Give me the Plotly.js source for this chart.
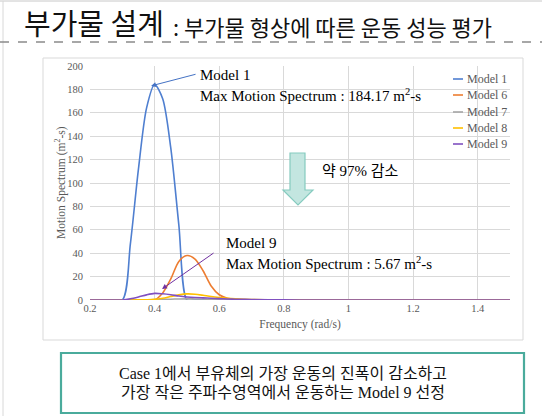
<!DOCTYPE html>
<html>
<head>
<meta charset="utf-8">
<script src="https://cdn.plot.ly/plotly-3.0.1.min.js"></script>
<style>html,body{margin:0;padding:0;background:#fff;}#chart{width:542px;height:417px;}</style>
</head>
<body>
<div id="chart"></div>
<script>
// ---- data ----
const seriesNames = ["Model 1", "Model 6", "Model 7", "Model 8", "Model 9"];
const freqFine = [0.2, 0.25, 0.3, 0.325, 0.35, 0.375, 0.4, 0.425, 0.45, 0.475, 0.5, 0.525, 0.55, 0.575, 0.6, 0.625, 0.65, 0.7, 0.8, 0.9, 1.0, 1.1, 1.2, 1.3, 1.4, 1.5];
const model1 = [0, 0, 0, 48, 112, 164, 184.17, 172, 130, 64, 0, 0, 0, 0, 0, 0, 0, 0, 0, 0, 0, 0, 0, 0, 0, 0];
const model6 = [0, 0, 0, 0, 0, 0, 0, 6, 18, 33, 38, 35, 25, 12, 4.5, 1.5, 0.6, 0.2, 0, 0, 0, 0, 0, 0, 0, 0];
const model7 = [0, 0, 0, 0, 0.1, 0.2, 0.3, 0.5, 0.7, 0.9, 1.0, 0.9, 0.8, 0.6, 0.5, 0.3, 0.2, 0.1, 0, 0, 0, 0, 0, 0, 0, 0];
const model8 = [0, 0, 0, 0, 0.1, 0.2, 0.5, 1.5, 3, 4.4, 5.2, 4.9, 4.0, 3.0, 2.2, 1.5, 1.0, 0.4, 0.1, 0, 0, 0, 0, 0, 0, 0];
const model9 = [0, 0, 0, 1.0, 2.6, 4.4, 5.67, 5.3, 4.5, 3.4, 2.6, 2.1, 1.8, 1.5, 1.2, 0.9, 0.7, 0.4, 0.1, 0, 0, 0, 0, 0, 0, 0];
const seriesValues = [model1, model6, model7, model8, model9];
const seriesColors = ["#4f7fd0", "#ED7D31", "#A5A5A5", "#FFC000", "#8050c0"];
const xTicks = [0.2, 0.4, 0.6, 0.8, 1.0, 1.2, 1.4];
const xTickText = ["0.2", "0.4", "0.6", "0.8", "1", "1.2", "1.4"];
const yTicks = [0, 20, 40, 60, 80, 100, 120, 140, 160, 180, 200];

// ---- layout helpers (pixel -> paper) ----
const FW = 542, FH = 417, ML = 90, MR = 32, MT = 66, MB = 117;
const PW = FW - ML - MR, PH = FH - MT - MB;
const px = x => (x - ML) / PW;
const py = y => (FH - MB - y) / PH;

const serif = "Liberation Serif, 'Times New Roman', serif";
const mixed = "Liberation Serif, 'Noto Sans CJK KR', serif";
const kr = "'Noto Sans CJK KR', 'Noto Sans', sans-serif";

const traces = seriesNames.map((n, i) => ({
  x: freqFine, y: seriesValues[i], name: n, type: "scatter", mode: "lines",
  line: {color: seriesColors[i], width: 1.6, shape: "spline", smoothing: 0.8},
  showlegend: false, hoverinfo: "skip"
}));

const shapes = [];
const annotations = [];

// slide frame lines
shapes.push({type: "line", xref: "paper", yref: "paper", x0: px(0), x1: px(542), y0: py(1), y1: py(1), line: {color: "#c8c8c8", width: 1}});
shapes.push({type: "line", xref: "paper", yref: "paper", x0: px(3), x1: px(3), y0: py(1), y1: py(416), line: {color: "#d8d8d8", width: 1}});
// dashed separator
shapes.push({type: "line", xref: "paper", yref: "paper", x0: px(0), x1: px(542), y0: py(42), y1: py(42), line: {color: "#8a8a8a", width: 1.3, dash: "dash"}});
// chart frame
shapes.push({type: "rect", xref: "paper", yref: "paper", x0: px(43), x1: px(523), y0: py(58), y1: py(340), line: {color: "#d9d9d9", width: 1}, layer: "below"});
// bottom box
shapes.push({type: "rect", xref: "paper", yref: "paper", x0: px(61), x1: px(524), y0: py(353), y1: py(413), line: {color: "#4aab9c", width: 2.2}});
// teal down arrow
const arrowPts = [[290,153],[305,153],[305,190],[313,190],[298,205],[283,190],[290,190]];
shapes.push({type: "path", xref: "paper", yref: "paper",
  path: "M " + arrowPts.map(p => px(p[0]).toFixed(5) + "," + py(p[1]).toFixed(5)).join(" L ") + " Z",
  fillcolor: "#c3e6e0", line: {color: "#86cbbf", width: 1.2}});

// manual legend
const legendY = [79, 95, 112, 128, 144];
seriesNames.forEach((n, i) => {
  shapes.push({type: "line", xref: "paper", yref: "paper", x0: px(453), x1: px(463), y0: py(legendY[i]), y1: py(legendY[i]), line: {color: seriesColors[i], width: 1.6}});
  annotations.push({xref: "paper", yref: "paper", x: px(465), y: py(legendY[i]), xanchor: "left", yanchor: "middle", showarrow: false, text: n, font: {family: serif, size: 12, color: "#595959"}});
});

// title
annotations.push({xref: "paper", yref: "paper", x: px(22), y: py(22), xanchor: "left", yanchor: "middle", showarrow: false, text: "부가물 설계", font: {family: kr, size: 29, color: "#111"}});
annotations.push({xref: "paper", yref: "paper", x: px(171), y: py(26), xanchor: "left", yanchor: "middle", showarrow: false, text: ": 부가물 형상에 따른 운동 성능 평가", font: {family: kr, size: 22, color: "#111"}});

// y axis title (placed manually)
annotations.push({xref: "paper", yref: "paper", x: px(60), y: py(183), xanchor: "center", yanchor: "middle", textangle: -90, showarrow: false, text: "Motion Spectrum (m<sup>2</sup>-s)", font: {family: serif, size: 11.5, color: "#595959"}});

// chart annotations
annotations.push({xref: "paper", yref: "paper", x: px(198), y: py(75), xanchor: "left", yanchor: "middle", showarrow: false, text: "Model 1", font: {family: serif, size: 15, color: "#000"}});
annotations.push({xref: "paper", yref: "paper", x: px(198), y: py(95), xanchor: "left", yanchor: "middle", showarrow: false, text: "Max Motion Spectrum : 184.17 m<sup>2</sup>-s", font: {family: serif, size: 15, color: "#000"}});
annotations.push({xref: "paper", yref: "paper", x: px(224), y: py(243), xanchor: "left", yanchor: "middle", showarrow: false, text: "Model 9", font: {family: serif, size: 15, color: "#000"}});
annotations.push({xref: "paper", yref: "paper", x: px(224), y: py(263), xanchor: "left", yanchor: "middle", showarrow: false, text: "Max Motion Spectrum : 5.67 m<sup>2</sup>-s", font: {family: serif, size: 15, color: "#000"}});
annotations.push({xref: "paper", yref: "paper", x: px(320), y: py(171), xanchor: "left", yanchor: "middle", showarrow: false, text: "약 97% 감소", font: {family: mixed, size: 15, color: "#000"}});
// arrows
annotations.push({xref: "x", yref: "y", x: 0.389, y: 183, ax: 46, ay: -12, text: "", showarrow: true, arrowhead: 2, arrowsize: 1, arrowwidth: 1, arrowcolor: "#4472C4"});
annotations.push({xref: "x", yref: "y", x: 0.423, y: 9.4, ax: 53, ay: -37, text: "", showarrow: true, arrowhead: 2, arrowsize: 1, arrowwidth: 1, arrowcolor: "#7030A0"});

// bottom box text
annotations.push({xref: "paper", yref: "paper", x: px(283), y: py(373), xanchor: "center", yanchor: "middle", showarrow: false, text: "Case 1에서 부유체의 가장 운동의 진폭이 감소하고", font: {family: mixed, size: 16, color: "#111"}});
annotations.push({xref: "paper", yref: "paper", x: px(283), y: py(392), xanchor: "center", yanchor: "middle", showarrow: false, text: "가장 작은 주파수영역에서 운동하는 Model 9 선정", font: {family: mixed, size: 16, color: "#111"}});

const layout = {
  width: FW, height: FH,
  margin: {l: ML, r: MR, t: MT, b: MB, pad: 0},
  paper_bgcolor: "#ffffff", plot_bgcolor: "#ffffff",
  showlegend: false,
  xaxis: {
    range: [0.2, 1.5], tickvals: xTicks, ticktext: xTickText,
    showgrid: true, gridcolor: "#d9d9d9", gridwidth: 1, zeroline: false, showline: false,
    ticks: "", tickfont: {family: serif, size: 10.5, color: "#595959"},
    title: {text: "Frequency (rad/s)", font: {family: serif, size: 11.5, color: "#595959"}, standoff: 7}
  },
  yaxis: {
    range: [0, 200], tickvals: yTicks,
    showgrid: true, gridcolor: "#d9d9d9", gridwidth: 1, zeroline: false, showline: false,
    ticks: "", ticklabelstandoff: 6, tickfont: {family: serif, size: 10.5, color: "#595959"}
  },
  shapes: shapes,
  annotations: annotations
};

Plotly.newPlot("chart", traces, layout, {staticPlot: true, displayModeBar: false});
</script>
</body>
</html>
